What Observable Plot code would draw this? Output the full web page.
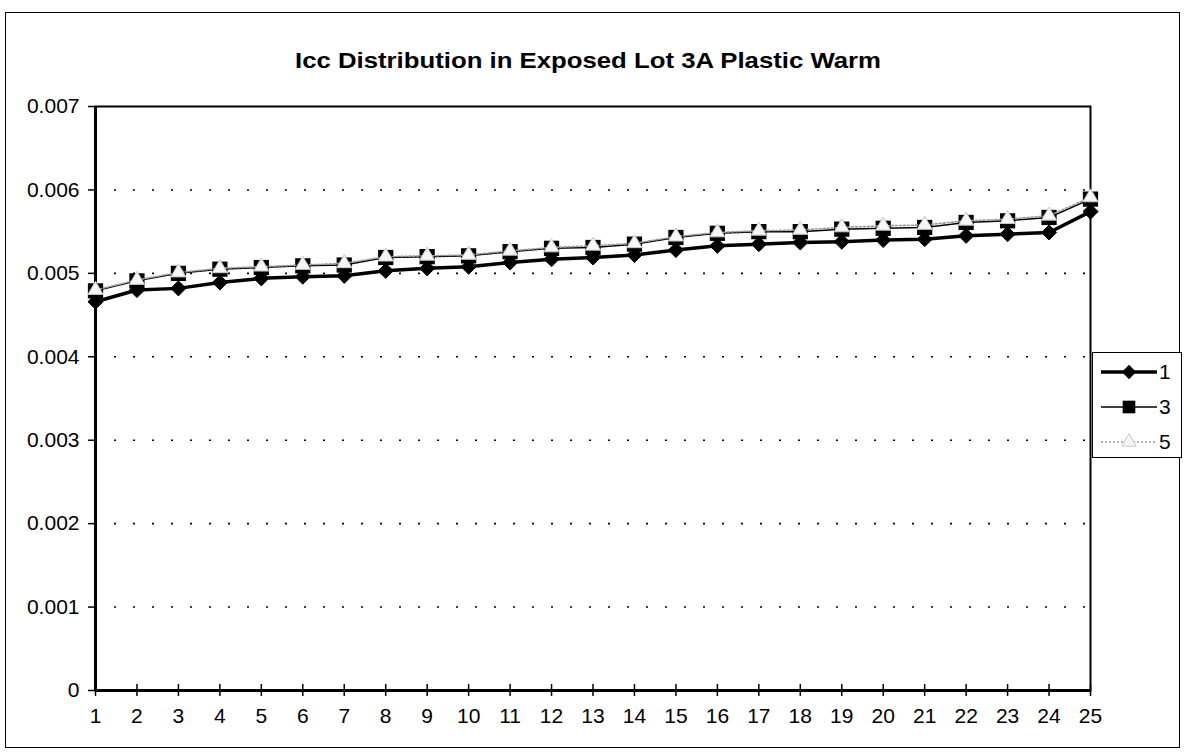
<!DOCTYPE html>
<html>
<head>
<meta charset="utf-8">
<script src="https://cdn.jsdelivr.net/npm/d3@7"></script>
<script src="https://cdn.jsdelivr.net/npm/@observablehq/plot@0.6"></script>
<style>
  html, body { margin: 0; padding: 0; background: #fff; }
  #wrap { position: relative; width: 1186px; height: 756px; overflow: hidden; font-family: "Liberation Sans", Arial, sans-serif; }
  #wrap svg.plot { position: absolute; left: 0; top: 0; }
  #border { position: absolute; left: 5px; top: 12px; width: 1173px; height: 734px; border: 1.5px solid #000; pointer-events: none; }
  #title { position: absolute; left: 0; top: 48px; width: 1176px; text-align: center; font-weight: bold; font-size: 22px; color: #000; transform: scaleX(1.17); transform-origin: 588px 0; white-space: nowrap; }
  #legend { position: absolute; left: 1092px; top: 352px; width: 88px; height: 104px; border: 1.5px solid #000; background: #fff; }
  #legend .row { position: absolute; left: 0; height: 30px; width: 88px; }
  #legend svg { position: absolute; left: 6px; top: 0; }
  #legend span { position: absolute; left: 66px; top: 3px; font-size: 21px; color: #000; }
</style>
</head>
<body>
<div id="wrap">
  <div id="border"></div>
  <div id="title">Icc Distribution in Exposed Lot 3A Plastic Warm</div>
  <div id="legend"></div>
</div>
<script>
// ---- data ----
const xLabels = d3.range(1, 26);
const seriesNames = ["1", "3", "5"];
const s1 = [0.00466, 0.00480, 0.00482, 0.00489, 0.00494, 0.00496, 0.00497, 0.00503, 0.00506, 0.00508,
            0.00513, 0.00517, 0.00519, 0.00522, 0.00528, 0.00533, 0.00535, 0.00537, 0.00538, 0.00540,
            0.00541, 0.00545, 0.00547, 0.00549, 0.00574];
const s3 = [0.00479, 0.00491, 0.00500, 0.00505, 0.00507, 0.00509, 0.00510, 0.00519, 0.00520, 0.00521,
            0.00526, 0.00530, 0.00531, 0.00535, 0.00543, 0.00548, 0.00550, 0.00550, 0.00553, 0.00554,
            0.00555, 0.00561, 0.00563, 0.00567, 0.00589];
const s5 = [0.00480, 0.00492, 0.00501, 0.00506, 0.00508, 0.00510, 0.00512, 0.00520, 0.00521, 0.00522,
            0.00527, 0.00531, 0.00533, 0.00536, 0.00544, 0.00549, 0.00551, 0.00552, 0.00555, 0.00557,
            0.00558, 0.00563, 0.00565, 0.00569, 0.00591];
const yTicks = [0, 0.001, 0.002, 0.003, 0.004, 0.005, 0.006, 0.007];

const d1 = xLabels.map((x, i) => ({x, y: s1[i], s: seriesNames[0]}));
const d3s = xLabels.map((x, i) => ({x, y: s3[i], s: seriesNames[1]}));
const d5 = xLabels.map((x, i) => ({x, y: s5[i], s: seriesNames[2]}));

const chart = Plot.plot({
  width: 1186,
  height: 756,
  marginLeft: 95,
  marginRight: 96,
  marginTop: 106,
  marginBottom: 66,
  style: { fontFamily: "Liberation Sans, Arial, sans-serif", fontSize: "21px", background: "transparent", color: "#000" },
  x: { domain: [1, 25], label: null },
  y: { domain: [0, 0.007], label: null },
  marks: [
    Plot.gridY(yTicks.filter(t => t > 0 && t < 0.007), { stroke: "#000", strokeOpacity: 1, strokeWidth: 1.6, strokeDasharray: "2,17" }),
    Plot.frame({ stroke: "#000", strokeWidth: 2 }),
    Plot.axisY(yTicks, { label: null, tickSize: 7, tickPadding: 9, tickFormat: d => d === 0 ? "0" : d3.format(".3f")(d), strokeWidth: 1.5, fontSize: 21 }),
    Plot.axisX(xLabels, { label: null, tickSize: 6, tickPadding: 12, tickFormat: d => String(d), strokeWidth: 1.5, fontSize: 21 }),
    Plot.axisX(xLabels, { label: null, tickSize: -6, tickFormat: () => "", strokeWidth: 1.5 }),
    Plot.ruleX([1], { stroke: "#000", strokeWidth: 3 }),
    Plot.ruleY([0], { stroke: "#000", strokeWidth: 3 }),
    // series 1
    Plot.line(d1, { x: "x", y: "y", stroke: "#000", strokeWidth: 3.5 }),
    Plot.dot(d1, { x: "x", y: "y", symbol: "diamond2", r: 6.8, fill: "#000", stroke: "#000", strokeWidth: 1 }),
    // series 3
    Plot.line(d3s, { x: "x", y: "y", stroke: "#000", strokeWidth: 1.5 }),
    Plot.dot(d3s, { x: "x", y: "y", symbol: "square", r: 8.6, fill: "#000", stroke: "none" }),
    // series 5
    Plot.line(d5, { x: "x", y: "y", stroke: "#9a9a9a", strokeWidth: 1.6, strokeDasharray: "2,2" }),
    Plot.dot(d5, { x: "x", y: "y", symbol: "triangle", r: 5.6, fill: "#f6f6f6", stroke: "#c8c8c8", strokeWidth: 1 })
  ]
});
chart.classList.add("plot");
const wrap = document.getElementById("wrap");
wrap.insertBefore(chart, document.getElementById("title"));

// ---- legend ----
const legend = document.getElementById("legend");
const legendStyles = [
  { line: { stroke: "#000", width: 3.5, dash: null }, sym: "diamond" },
  { line: { stroke: "#000", width: 1.5, dash: null }, sym: "square" },
  { line: { stroke: "#9a9a9a", width: 1.6, dash: "2,2" }, sym: "triangle" }
];
seriesNames.forEach((name, i) => {
  const row = document.createElement("div");
  row.className = "row";
  row.style.top = (4 + i * 35) + "px";
  const st = legendStyles[i];
  const svg = d3.create("svg").attr("width", 58).attr("height", 30);
  svg.append("line").attr("x1", 2).attr("x2", 58).attr("y1", 15).attr("y2", 15)
    .attr("stroke", st.line.stroke).attr("stroke-width", st.line.width)
    .attr("stroke-dasharray", st.line.dash);
  if (st.sym === "diamond") {
    svg.append("path").attr("d", d3.symbol(d3.symbolDiamond2, 130)()).attr("transform", "translate(30,15)").attr("fill", "#000");
  } else if (st.sym === "square") {
    svg.append("path").attr("d", d3.symbol(d3.symbolSquare, 160)()).attr("transform", "translate(30,15)").attr("fill", "#000");
  } else {
    svg.append("path").attr("d", d3.symbol(d3.symbolTriangle, 90)()).attr("transform", "translate(30,15)").attr("fill", "#f6f6f6").attr("stroke", "#c8c8c8");
  }
  row.appendChild(svg.node());
  const sp = document.createElement("span");
  sp.textContent = name;
  row.appendChild(sp);
  legend.appendChild(row);
});
</script>
</body>
</html>
